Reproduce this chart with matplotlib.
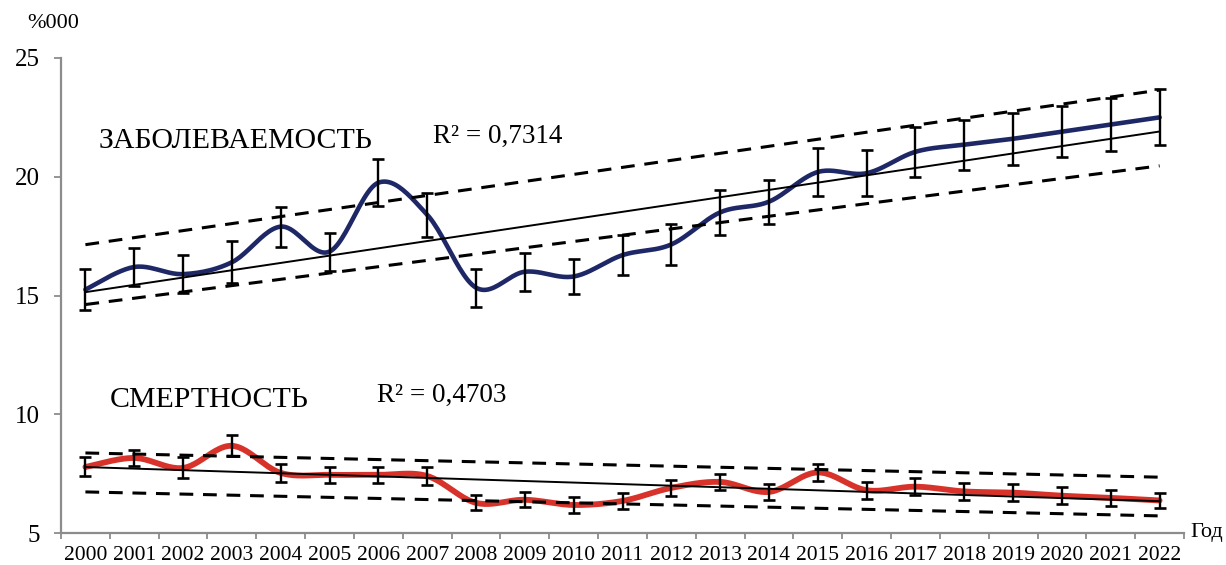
import numpy as np
import matplotlib
matplotlib.use("Agg")
import matplotlib.pyplot as plt

plt.rcParams['font.family'] = ['Liberation Serif', 'DejaVu Serif']

years = [str(y) for y in range(2000, 2023)]

incidence = [15.25, 16.2, 15.9, 16.4, 17.9, 16.85, 19.75, 18.4, 15.33, 16.0, 15.8, 16.7,
             17.15, 18.5, 18.95, 20.2, 20.15, 21.05, 21.35, 21.6, 21.9, 22.2, 22.5]
incidence_err = [0.85, 0.78, 0.8, 0.88, 0.84, 0.8, 1.0, 0.92, 0.8, 0.8, 0.75, 0.83,
                 0.88, 0.95, 0.93, 1.0, 0.98, 1.05, 1.05, 1.1, 1.08, 1.1, 1.18]
incidence_band_upper = [17.14, 23.65]
incidence_band_lower = [14.62, 20.46]

mortality = [7.78, 8.16, 7.74, 8.67, 7.53, 7.45, 7.45, 7.4, 6.27, 6.4, 6.18, 6.35,
             6.9, 7.15, 6.73, 7.55, 6.8, 6.95, 6.75, 6.7, 6.57, 6.48, 6.37]
mortality_err = [0.4, 0.35, 0.44, 0.44, 0.39, 0.34, 0.34, 0.37, 0.32, 0.32, 0.32, 0.32,
                 0.35, 0.35, 0.34, 0.34, 0.35, 0.35, 0.35, 0.35, 0.35, 0.35, 0.3]
mortality_band_upper = [8.37, 7.35]
mortality_band_lower = [6.73, 5.72]

labels = {
    'inc': 'ЗАБОЛЕВАЕМОСТЬ',
    'inc_r2': 'R² = 0,7314',
    'mort': 'СМЕРТНОСТЬ',
    'mort_r2': 'R² = 0,4703',
}
yticks = [5, 10, 15, 20, 25]

BLUE = '#1f2866'
RED = '#d8332b'
AXIS = '#8c8c8c'


def smooth(xv, yv, n=24):
    x = np.asarray(xv, float)
    y = np.asarray(yv, float)
    P = np.column_stack([x, y])
    P = np.vstack([P[0], P, P[-1]])
    out = []
    t = np.linspace(0, 1, n, endpoint=False)[:, None]
    for i in range(1, len(P) - 2):
        p0, p1, p2, p3 = P[i - 1], P[i], P[i + 1], P[i + 2]
        seg = 0.5 * (2 * p1 + (-p0 + p2) * t + (2 * p0 - 5 * p1 + 4 * p2 - p3) * t ** 2
                     + (-p0 + 3 * p1 - 3 * p2 + p3) * t ** 3)
        out.append(seg)
    out.append(P[-2][None, :])
    out = np.vstack(out)
    return out[:, 0], out[:, 1]


fig = plt.figure(figsize=(12.26, 5.65), dpi=100)
ax = fig.add_axes([61 / 1226, 32 / 565, 1123 / 1226, 475 / 565])

x = np.arange(len(years))

for vals, errs, color, lw, up, lo in [
        (incidence, incidence_err, BLUE, 3.3, incidence_band_upper, incidence_band_lower),
        (mortality, mortality_err, RED, 4.2, mortality_band_upper, mortality_band_lower)]:
    sx, sy = smooth(x, vals)
    ax.plot(sx, sy, color=color, lw=lw, solid_capstyle='round', zorder=3)
    ax.errorbar(x, vals, yerr=errs, fmt='none', ecolor='black', elinewidth=1.7,
                capsize=4.5, capthick=1.9, zorder=4)
    k, b = np.polyfit(x, vals, 1)
    ax.plot([x[0], x[-1]], [k * x[0] + b, k * x[-1] + b], color='black', lw=1.4, zorder=5)
    ax.plot([x[0], x[-1]], up, color='black', lw=2.2, dashes=(4.5, 3.2), zorder=5)
    ax.plot([x[0], x[-1]], lo, color='black', lw=2.2, dashes=(4.5, 3.2), zorder=5)

ax.set_xlim(-0.5, len(years) - 0.5)
ax.set_ylim(5, 25)
ax.set_yticks(yticks)
ax.set_yticklabels([str(v) for v in yticks], fontsize=18)
ax.set_xticks(x)
ax.set_xticklabels(years, fontsize=15.5)
ax.set_xticks(np.arange(len(years) + 1) - 0.5, minor=True)
ax.tick_params(axis='x', which='major', length=0, pad=9)
ax.tick_params(axis='x', which='minor', length=4, width=1.3, color=AXIS, direction='out')
ax.tick_params(axis='y', which='major', length=5, width=1.3, color=AXIS, direction='out', pad=10)
for s in ['top', 'right']:
    ax.spines[s].set_visible(False)
for s in ['left', 'bottom']:
    ax.spines[s].set_color(AXIS)
    ax.spines[s].set_linewidth(1.6)

ax.text(0.26, 21.22, labels['inc'], fontsize=21.5, ha='left', va='baseline')
ax.text(7.12, 21.43, labels['inc_r2'], fontsize=19.5, ha='left', va='baseline')
ax.text(0.5, 10.31, labels['mort'], fontsize=21.5, ha='left', va='baseline')
ax.text(5.97, 10.52, labels['mort_r2'], fontsize=19.5, ha='left', va='baseline')

fig.text(27 / 1226, 1 - 24 / 565, '%000', fontsize=16, ha='left', va='center')
fig.text(1190 / 1226, 1 - 533 / 565, 'Год', fontsize=16, ha='left', va='center')

fig.savefig('out.png', dpi=100)
